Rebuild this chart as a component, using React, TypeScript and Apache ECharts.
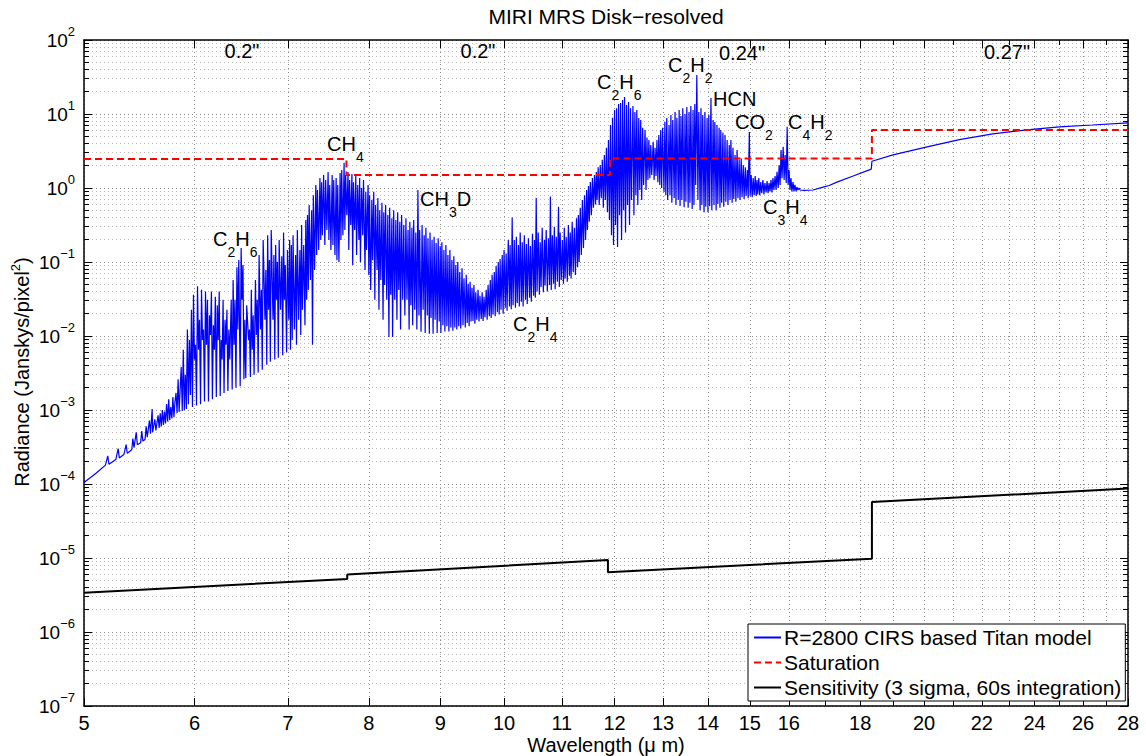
import React, { useEffect, useRef } from "react";
import * as echarts from "echarts";

const FONT = '"Liberation Sans", Arial, Helvetica, sans-serif';

// ---- axis ticks ----
const xMajorTicks = [5, 6, 7, 8, 9, 10, 11, 12, 13, 14, 15, 16, 18, 20, 22, 24, 26, 28];
const xMinorTicks = [17, 19, 21, 23, 25, 27];
const yMajorTicks = [1e-7, 1e-6, 1e-5, 1e-4, 1e-3, 1e-2, 1e-1, 1, 10, 100];
const yMinorTicks: number[] = [];
for (let e = -7; e < 2; e++) {
  for (let m = 2; m <= 9; m++) yMinorTicks.push(Number((m * Math.pow(10, e)).toPrecision(2)));
}

// ---- series names ----
const seriesNames = [
  "R=2800 CIRS based Titan model",
  "Saturation",
  "Sensitivity (3 sigma, 60s integration)",
];

// ---- Titan model spectrum [wavelength um, radiance Jy/pixel^2] ----
const spectrumShort = [
  [5.0, 1.05e-4], [5.1, 1.4e-4], [5.18, 1.8e-4], [5.2, 2.4e-4], [5.21, 1.85e-4], [5.27, 2.15e-4], [5.29, 3.0e-4], [5.3, 2.25e-4],
  [5.34, 2.5e-4], [5.36, 3.4e-4], [5.37, 2.6e-4], [5.41, 2.9e-4], [5.42, 4.1e-4], [5.43, 3.1e-4], [5.45, 5.0e-4], [5.46, 3.4e-4],
  [5.49, 3.6e-4], [5.5, 5.2e-4], [5.51, 3.8e-4], [5.53, 4.0e-4], [5.54, 6.0e-4], [5.55, 4.3e-4], [5.57, 7.2e-4], [5.58, 4.8e-4],
  [5.595, 1.03e-3], [5.6, 5.0e-4], [5.62, 7.5e-4], [5.63, 5.3e-4], [5.65, 8.5e-4], [5.66, 5.7e-4], [5.67, 9.0e-4], [5.68, 6.0e-4],
  [5.69, 1.0e-3], [5.7, 6.3e-4], [5.71, 9.5e-4], [5.72, 6.6e-4], [5.73, 1.2e-3], [5.74, 7.0e-4], [5.75, 1.4e-3], [5.76, 7.3e-4],
  [5.77, 1.1e-3], [5.78, 7.7e-4], [5.79, 1.5e-3], [5.8, 8.0e-4], [5.81, 1.3e-3],
  [5.82, 1.7e-3], [5.83, 9.1e-4], [5.84, 2.6e-3], [5.85, 9.4e-4], [5.87, 3.8e-3], [5.88, 9.7e-4], [5.89, 6.5e-3], [5.9, 1.0e-3],
  [5.91, 3.0e-3], [5.92, 1.03e-3], [5.93, 0.0122], [5.94, 1.2e-3], [5.95, 8.8e-3], [5.96, 1.6e-3], [5.97, 0.0226], [5.98, 1.1e-3],
  [5.99, 0.036], [6.0, 4.8e-3], [6.01, 7.6e-3], [6.02, 1.15e-3], [6.03, 0.047], [6.04, 6.5e-3], [6.05, 0.0166], [6.06, 1.2e-3],
  [6.07, 0.042], [6.08, 8.8e-3], [6.09, 0.0122], [6.1, 1.3e-3], [6.11, 0.04], [6.12, 7.6e-3], [6.13, 0.031], [6.14, 1.3e-3],
  [6.15, 0.019], [6.16, 0.0103], [6.17, 0.04], [6.18, 1.4e-3], [6.19, 0.014], [6.2, 6.5e-3], [6.21, 0.034], [6.22, 1.5e-3],
  [6.23, 0.026], [6.24, 8.8e-3], [6.25, 0.04], [6.26, 1.55e-3], [6.27, 8.8e-3], [6.28, 4.8e-3], [6.29, 0.031], [6.3, 1.7e-3],
  [6.31, 0.0166], [6.32, 7.6e-3], [6.33, 0.0226], [6.34, 1.8e-3], [6.35, 0.0122], [6.36, 4.8e-3], [6.375, 0.031], [6.385, 1.9e-3],
  [6.395, 0.057], [6.405, 7.6e-3], [6.415, 0.031], [6.425, 2.0e-3], [6.435, 0.085], [6.445, 0.0122], [6.455, 0.106], [6.47, 2.1e-3],
  [6.48, 0.155], [6.49, 0.031], [6.5, 0.091], [6.51, 2.6e-3],
  [6.52, 0.0166], [6.53, 2.7e-3], [6.54, 0.026], [6.56, 8.8e-3], [6.57, 0.0122], [6.58, 2.8e-3], [6.59, 0.042], [6.6, 6.5e-3],
  [6.61, 0.019], [6.62, 3.0e-3], [6.635, 0.057], [6.645, 0.0103], [6.655, 0.031], [6.665, 3.2e-3], [6.675, 0.124], [6.69, 0.0122],
  [6.7, 0.042], [6.71, 3.5e-3], [6.72, 0.198], [6.74, 0.0166], [6.75, 0.078], [6.76, 4.1e-3], [6.77, 0.23], [6.78, 0.0226],
  [6.79, 0.106], [6.8, 4.5e-3], [6.81, 0.27], [6.83, 0.0166], [6.84, 0.124], [6.85, 4.8e-3], [6.86, 0.17], [6.87, 0.031],
  [6.88, 0.1], [6.89, 5.1e-3], [6.9, 0.198], [6.915, 0.0226], [6.93, 0.12], [6.94, 5.5e-3], [6.95, 0.25], [6.96, 0.031],
  [6.97, 0.091], [6.985, 6.0e-3], [6.995, 0.145], [7.01, 0.0166], [7.02, 0.198], [7.03, 6.5e-3],
  [7.04, 0.17], [7.05, 8.8e-3], [7.06, 0.23], [7.075, 0.0122], [7.09, 0.124], [7.1, 7.6e-3], [7.11, 0.27], [7.125, 0.0166],
  [7.14, 0.145], [7.15, 0.0103], [7.16, 0.316], [7.17, 0.0226], [7.185, 0.17], [7.2, 0.014], [7.21, 0.37], [7.22, 0.031],
  [7.23, 0.43], [7.24, 0.042], [7.25, 0.59], [7.265, 0.057], [7.28, 0.5], [7.29, 7.6e-3], [7.3, 0.8], [7.315, 0.078],
  [7.33, 1.1], [7.34, 0.124], [7.35, 0.94], [7.365, 0.145], [7.38, 1.36], [7.39, 0.198], [7.4, 1.2], [7.41, 0.23],
  [7.425, 1.5], [7.44, 0.17], [7.45, 1.28], [7.465, 0.27], [7.48, 1.65], [7.49, 0.198], [7.5, 1.1], [7.515, 0.145],
  [7.53, 1.5], [7.54, 0.17], [7.55, 1.28], [7.565, 0.124], [7.58, 1.36], [7.59, 0.106], [7.6, 1.1], [7.615, 0.1],
  [7.63, 1.6], [7.64, 0.198], [7.65, 1.75], [7.665, 0.23], [7.68, 2.2], [7.69, 0.27], [7.7, 1.5], [7.715, 0.43],
];

const spectrumMid = [
  [7.73, 1.65], [7.74, 0.145], [7.75, 1.28], [7.765, 0.316], [7.78, 1.55], [7.79, 0.091], [7.8, 1.2], [7.815, 0.27],
  [7.83, 1.45], [7.84, 0.124], [7.855, 1.1], [7.87, 0.198], [7.88, 1.36], [7.89, 0.1], [7.905, 1.0], [7.92, 0.23],
  [7.93, 1.28], [7.95, 0.078], [7.96, 0.89], [7.97, 0.145], [7.99, 1.1], [8.0, 0.067], [8.01, 0.8], [8.025, 0.042],
  [8.04, 0.69], [8.05, 0.106], [8.065, 0.89], [8.08, 0.031], [8.09, 0.59], [8.11, 0.078], [8.12, 0.73], [8.135, 0.0226],
  [8.145, 0.5], [8.16, 0.057], [8.175, 0.63], [8.19, 0.0166], [8.2, 0.47], [8.21, 0.049], [8.225, 0.59], [8.24, 0.031],
  [8.255, 0.43], [8.27, 9.7e-3], [8.28, 0.54], [8.295, 0.036], [8.31, 0.39], [8.32, 9.7e-3], [8.335, 0.5], [8.35, 0.031],
  [8.365, 0.37], [8.38, 0.0166], [8.39, 0.47], [8.405, 0.042], [8.42, 0.35], [8.43, 0.0122], [8.445, 0.43], [8.46, 0.031],
  [8.475, 0.316], [8.49, 0.019], [8.505, 0.39], [8.52, 0.031], [8.535, 0.27], [8.55, 0.0122], [8.56, 0.35], [8.575, 0.026],
  [8.59, 0.29], [8.6, 0.014], [8.615, 0.37], [8.63, 0.0226], [8.645, 0.25], [8.66, 0.0122], [8.675, 0.94], [8.69, 0.019],
  [8.7, 0.27], [8.72, 0.0114], [8.735, 0.316], [8.75, 0.0226], [8.765, 0.23], [8.78, 0.011], [8.79, 0.29], [8.81, 0.019],
  [8.82, 0.21], [8.84, 0.0107], [8.85, 0.25], [8.865, 0.0175], [8.88, 0.198], [8.895, 0.0107], [8.91, 0.22], [8.925, 0.0166],
  [8.94, 0.18], [8.955, 0.011], [8.97, 0.21], [8.985, 0.0157], [9.0, 0.165], [9.01, 0.011], [9.025, 0.185], [9.04, 0.014],
  [9.055, 0.145], [9.07, 0.0115], [9.085, 0.17], [9.1, 0.0136], [9.115, 0.124], [9.13, 0.0115], [9.145, 0.145], [9.16, 0.013],
  [9.175, 0.106], [9.19, 0.0118], [9.205, 0.12], [9.22, 0.013], [9.235, 0.091], [9.25, 0.0122], [9.265, 0.1], [9.28, 0.0136],
  [9.295, 0.073], [9.31, 0.0126], [9.33, 0.082], [9.345, 0.014], [9.36, 0.06], [9.38, 0.013], [9.395, 0.067], [9.41, 0.015],
  [9.425, 0.051], [9.44, 0.0136], [9.455, 0.054], [9.47, 0.0157],
  [9.485, 0.045], [9.5, 0.016], [9.515, 0.049], [9.53, 0.0147], [9.545, 0.039], [9.56, 0.0166], [9.58, 0.042], [9.595, 0.0157],
  [9.61, 0.035], [9.63, 0.017], [9.645, 0.039], [9.66, 0.016], [9.675, 0.034], [9.69, 0.018], [9.71, 0.042], [9.725, 0.0166],
  [9.74, 0.049], [9.76, 0.0185], [9.775, 0.057], [9.79, 0.0175], [9.805, 0.067], [9.82, 0.0195], [9.84, 0.073], [9.855, 0.0185],
  [9.87, 0.088], [9.89, 0.021], [9.905, 0.1], [9.92, 0.0195], [9.935, 0.11], [9.95, 0.0226], [9.97, 0.124], [9.985, 0.02],
  [10.0, 0.145], [10.02, 0.024], [10.035, 0.13], [10.05, 0.022], [10.07, 0.198], [10.09, 0.025], [10.1, 0.17], [10.12, 0.023],
  [10.135, 0.4], [10.15, 0.026], [10.17, 0.198], [10.19, 0.024], [10.205, 0.22], [10.22, 0.028], [10.24, 0.17], [10.255, 0.025],
  [10.27, 0.25], [10.29, 0.029], [10.305, 0.185], [10.32, 0.025], [10.34, 0.23], [10.36, 0.031], [10.375, 0.175], [10.39, 0.027],
  [10.41, 0.21], [10.43, 0.033], [10.445, 0.165], [10.46, 0.029], [10.48, 0.24], [10.5, 0.035], [10.515, 0.198], [10.53, 0.033],
  [10.545, 0.73], [10.56, 0.04],
  [10.58, 0.25], [10.6, 0.036], [10.615, 0.185], [10.63, 0.046], [10.65, 0.29], [10.67, 0.039], [10.69, 0.198], [10.7, 0.048],
  [10.72, 0.27], [10.74, 0.04], [10.76, 0.21], [10.78, 0.049], [10.795, 0.77], [10.81, 0.042], [10.83, 0.23], [10.85, 0.051],
  [10.865, 0.3], [10.88, 0.043], [10.9, 0.22], [10.92, 0.054], [10.94, 0.56], [10.955, 0.046], [10.97, 0.25], [10.99, 0.057],
  [11.01, 0.198], [11.03, 0.051], [11.045, 0.29], [11.06, 0.06], [11.08, 0.22], [11.1, 0.054], [11.12, 0.316], [11.14, 0.065],
  [11.155, 0.25], [11.17, 0.06], [11.19, 0.35], [11.21, 0.073], [11.23, 0.29], [11.25, 0.067], [11.27, 0.39], [11.29, 0.085],
  [11.305, 0.43], [11.32, 0.1], [11.34, 0.54], [11.36, 0.124], [11.38, 0.69], [11.4, 0.155], [11.42, 0.8], [11.44, 0.198],
  [11.46, 0.94], [11.475, 0.27], [11.495, 1.06], [11.51, 0.35], [11.53, 1.2], [11.55, 0.43], [11.57, 1.36], [11.59, 0.54],
  [11.61, 1.5], [11.63, 0.6], [11.645, 1.65], [11.66, 0.69], [11.68, 1.9], [11.7, 0.59], [11.72, 2.05], [11.74, 0.73],
  [11.76, 2.4], [11.78, 0.54], [11.8, 2.8], [11.82, 0.69], [11.84, 3.5], [11.86, 0.47],
];

const spectrumLong = [
  [11.88, 4.46], [11.9, 0.37], [11.92, 7.1], [11.94, 0.23], [11.96, 8.8], [11.98, 0.17], [12.0, 11.3], [12.02, 0.316],
  [12.04, 12.0], [12.06, 0.16], [12.08, 13.7], [12.1, 0.43], [12.12, 14.1], [12.14, 0.198], [12.16, 15.5], [12.18, 0.5],
  [12.2, 17.0], [12.22, 0.25], [12.24, 13.2], [12.26, 0.59], [12.28, 14.5], [12.3, 0.316], [12.32, 12.0], [12.34, 0.69],
  [12.37, 12.8], [12.39, 0.43], [12.41, 10.6], [12.43, 0.8], [12.45, 11.3], [12.47, 0.59], [12.49, 8.8], [12.51, 0.94],
  [12.53, 8.3], [12.55, 0.69], [12.57, 6.5], [12.59, 1.1], [12.62, 6.1], [12.64, 0.94], [12.66, 4.8], [12.68, 1.28],
  [12.7, 4.46], [12.72, 1.36], [12.74, 3.8], [12.76, 1.5], [12.79, 4.2], [12.81, 1.28], [12.83, 3.5], [12.85, 1.45],
  [12.87, 4.46], [12.89, 1.2], [12.91, 5.2], [12.93, 1.1], [12.95, 6.1], [12.97, 1.0], [12.99, 6.5], [13.02, 0.89],
  [13.04, 7.8], [13.06, 0.8], [13.08, 8.8], [13.1, 0.69], [13.13, 7.1], [13.15, 0.8], [13.17, 9.7], [13.19, 0.63],
  [13.21, 8.3], [13.24, 0.73], [13.26, 10.6], [13.28, 0.59], [13.3, 8.8], [13.33, 0.69], [13.35, 11.3], [13.37, 0.57],
  [13.39, 9.4], [13.41, 0.69], [13.43, 12.0], [13.46, 0.55], [13.48, 10.0], [13.5, 0.65], [13.52, 12.4], [13.55, 0.54],
  [13.57, 10.6], [13.59, 0.63], [13.61, 12.8], [13.64, 0.52], [13.66, 11.3], [13.68, 0.59], [13.7, 13.7], [13.72, 1.1],
  [13.745, 33.7], [13.77, 0.69], [13.79, 10.6], [13.82, 0.5], [13.84, 12.0], [13.86, 0.59],
  [13.88, 9.7], [13.91, 0.47], [13.93, 10.6], [13.95, 0.56], [13.98, 8.8], [14.0, 0.47], [14.02, 9.7], [14.04, 0.57],
  [14.07, 16.5], [14.09, 0.5], [14.12, 8.3], [14.14, 0.59], [14.16, 7.8], [14.19, 0.5], [14.21, 7.1], [14.23, 0.61],
  [14.26, 6.5], [14.28, 0.54], [14.3, 6.1], [14.32, 0.63], [14.35, 5.6], [14.37, 0.56], [14.4, 5.2], [14.42, 0.65],
  [14.45, 4.46], [14.47, 0.59], [14.5, 3.8], [14.52, 0.69], [14.54, 4.46], [14.57, 0.63], [14.59, 3.5], [14.61, 0.71],
  [14.64, 2.8], [14.66, 0.65], [14.69, 3.27], [14.71, 0.73], [14.74, 2.4], [14.76, 0.69], [14.79, 2.5], [14.81, 0.75],
  [14.84, 2.05], [14.86, 0.71], [14.89, 1.9], [14.91, 0.78], [14.94, 1.75], [14.96, 0.73], [14.99, 5.7], [15.01, 0.78],
  [15.035, 1.5], [15.06, 0.75], [15.085, 1.36], [15.11, 0.8], [15.135, 1.45], [15.16, 0.78], [15.18, 1.28], [15.2, 0.82],
  [15.225, 1.36], [15.25, 0.8], [15.275, 1.2], [15.3, 0.85], [15.33, 1.28], [15.355, 0.82], [15.38, 1.17], [15.41, 0.87],
  [15.435, 1.24], [15.46, 0.85], [15.485, 1.17], [15.51, 0.9], [15.535, 1.28], [15.56, 0.87], [15.585, 1.36], [15.61, 0.94],
  [15.64, 1.45], [15.665, 0.94], [15.69, 1.65], [15.72, 1.0], [15.745, 2.05], [15.77, 1.1], [15.795, 3.27], [15.82, 1.36],
  [15.85, 3.6], [15.875, 1.28], [15.9, 2.8], [15.93, 1.17], [15.955, 6.7], [15.98, 1.1], [16.005, 1.75], [16.03, 0.94],
  [16.055, 1.36], [16.08, 0.9], [16.11, 1.2], [16.135, 0.9], [16.16, 1.1], [16.19, 0.9], [16.215, 1.03], [16.24, 0.94],
  [16.27, 1.0], [16.3, 0.94],
];

const spectrumContinuum = [
  [16.4, 0.93], [16.65, 0.94], [16.93, 1.03], [17.1, 1.08], [17.32, 1.2], [17.79, 1.45], [18.33, 1.8], [18.35, 2.3],
  [19.0, 2.8], [20.1, 3.6], [21.2, 4.5], [22.4, 5.4], [23.7, 6.1], [25.0, 6.7], [26.4, 7.1], [28.0, 7.6],
];

// ---- saturation limit ----
const saturation = [
  [5.0, 2.47], [7.71, 2.47], [7.71, 1.5], [11.91, 1.5], [11.91, 2.5], [18.35, 2.5], [18.35, 6.1], [28.0, 6.1],
];

// ---- sensitivity (3 sigma, 60 s) ----
const sensitivity = [
  [5.0, 3.4e-6], [7.72, 5.2e-6], [7.72, 6.0e-6], [11.87, 9.4e-6], [11.87, 6.4e-6], [18.35, 9.8e-6], [18.35, 5.7e-5], [28.0, 8.7e-5],
];

// ---- annotations ----
const apertureLabels = ['0.2"', '0.2"', '0.24"', '0.27"'];
const moleculeLabels = [
  "{m|C}{u|2}{m|H}{u|6}",
  "{m|CH}{u|4}",
  "{m|CH}{u|3}{m|D}",
  "{m|C}{u|2}{m|H}{u|4}",
  "{m|C}{u|2}{m|H}{u|6}",
  "{m|C}{u|2}{m|H}{u|2}",
  "{m|HCN}",
  "{m|CO}{u|2}",
  "{m|C}{u|4}{m|H}{u|2}",
  "{m|C}{u|3}{m|H}{u|4}",
];

const aperturePos = [[242, 51], [478, 51], [742, 53], [1007, 52]];
const moleculePos = [
  [213, 239], [327, 144], [420, 199], [513, 324], [597, 82], [668, 65], [713, 99], [735, 122], [788, 122], [763, 207],
];

export default function App() {
  const ref = useRef<HTMLDivElement>(null);

  useEffect(() => {
    if (!ref.current) return;
    const chart = echarts.init(ref.current, undefined, { renderer: "svg" });

    const spectrum = [...spectrumShort, ...spectrumMid, ...spectrumLong, ...spectrumContinuum];

    const majorGrid = { show: true, lineStyle: { color: "#8a8a8a", width: 1, type: [1, 3] } };
    const minorGrid = { show: true, lineStyle: { color: "#b8b8b8", width: 1, type: [1, 3] } };
    const axisLine = { show: true, onZero: false, lineStyle: { color: "#000", width: 1.5 } };

    const xBase = { type: "log", logBase: 10, min: 5, max: 28, minorTick: { show: false }, minorSplitLine: { show: false } };
    const yBase = { type: "log", logBase: 10, min: 1e-7, max: 100, minorTick: { show: false }, minorSplitLine: { show: false } };

    const expLabel = (v: number) => {
      const e = Math.round(Math.log10(v));
      return `{b|10}{s|${e < 0 ? "\u2212" + -e : e}}`;
    };

    const graphic: any[] = [
      {
        type: "text", x: 606, y: 16, silent: true,
        style: { text: "MIRI MRS Disk\u2212resolved", fontSize: 21, fontFamily: FONT, fill: "#000", align: "center", verticalAlign: "middle" },
      },
      {
        type: "text", x: 606, y: 745, silent: true,
        style: { text: "Wavelength (\u03bc m)", fontSize: 20, fontFamily: FONT, fill: "#000", align: "center", verticalAlign: "middle" },
      },
      {
        type: "text", x: 22, y: 372, rotation: Math.PI / 2, silent: true,
        style: {
          text: "{b|Radiance (Janskys/pixel}{s|2}{b|)}",
          align: "center", verticalAlign: "middle",
          rich: {
            b: { fontSize: 20, fontFamily: FONT, fill: "#000" },
            s: { fontSize: 13, fontFamily: FONT, fill: "#000", padding: [0, 0, 14, 0] },
          },
        },
      },
    ];
    apertureLabels.forEach((t, i) => {
      graphic.push({
        type: "text", x: aperturePos[i][0], y: aperturePos[i][1], silent: true, z: 10,
        style: { text: t, fontSize: 20, fontFamily: FONT, fill: "#000", align: "center", verticalAlign: "middle" },
      });
    });
    moleculeLabels.forEach((t, i) => {
      graphic.push({
        type: "text", x: moleculePos[i][0], y: moleculePos[i][1], silent: true, z: 10,
        style: {
          text: t, align: "left", verticalAlign: "middle",
          rich: {
            m: { fontSize: 20, fontFamily: FONT, fill: "#000" },
            u: { fontSize: 14, fontFamily: FONT, fill: "#000", padding: [26, 0, 0, 0] },
          },
        },
      });
    });

    chart.setOption({
      animation: false,
      backgroundColor: "#fff",
      textStyle: { fontFamily: FONT },
      grid: { left: 84, right: 18, top: 40, bottom: 50, containLabel: false },
      legend: {
        orient: "vertical",
        left: 748,
        top: 624,
        data: seriesNames,
        itemWidth: 27,
        itemHeight: 12,
        itemGap: 4,
        padding: [3, 4, 3, 5],
        backgroundColor: "#fff",
        borderColor: "#000",
        borderWidth: 1,
        borderRadius: 0,
        selectedMode: false,
        itemStyle: { opacity: 0 },
        textStyle: { fontSize: 21, fontFamily: FONT, color: "#000", padding: [0, 0, 0, -2] },
        z: 20,
      },
      xAxis: [
        {
          ...xBase, position: "bottom", axisLine,
          axisTick: { show: true, inside: true, length: 8, customValues: xMajorTicks, lineStyle: { color: "#000", width: 1 } },
          axisLabel: {
            show: true, customValues: xMajorTicks, margin: 7, fontSize: 20, fontFamily: FONT, color: "#000",
            formatter: (v: number) => String(Math.round(v)),
          },
          splitLine: majorGrid,
        },
        {
          ...xBase, position: "bottom", axisLine: { show: false },
          axisTick: { show: true, inside: true, length: 5, customValues: xMinorTicks, lineStyle: { color: "#000", width: 1 } },
          axisLabel: { show: false },
          splitLine: majorGrid,
        },
        {
          ...xBase, position: "top", axisLine,
          axisTick: { show: true, inside: true, length: 8, customValues: xMajorTicks, lineStyle: { color: "#000", width: 1 } },
          axisLabel: { show: false }, splitLine: { show: false },
        },
        {
          ...xBase, position: "top", axisLine: { show: false },
          axisTick: { show: true, inside: true, length: 5, customValues: xMinorTicks, lineStyle: { color: "#000", width: 1 } },
          axisLabel: { show: false }, splitLine: { show: false },
        },
      ],
      yAxis: [
        {
          ...yBase, position: "left", axisLine,
          axisTick: { show: true, inside: true, length: 8, customValues: yMajorTicks, lineStyle: { color: "#000", width: 1 } },
          axisLabel: {
            show: true, customValues: yMajorTicks, margin: 9, color: "#000", formatter: expLabel,
            rich: {
              b: { fontSize: 19, fontFamily: FONT, color: "#000" },
              s: { fontSize: 13, fontFamily: FONT, color: "#000", padding: [0, 0, 17, 0] },
            },
          },
          splitLine: majorGrid,
        },
        {
          ...yBase, position: "left", axisLine: { show: false },
          axisTick: { show: true, inside: true, length: 5, customValues: yMinorTicks, lineStyle: { color: "#000", width: 1 } },
          axisLabel: { show: false },
          splitLine: minorGrid,
        },
        {
          ...yBase, position: "right", axisLine,
          axisTick: { show: true, inside: true, length: 8, customValues: yMajorTicks, lineStyle: { color: "#000", width: 1 } },
          axisLabel: { show: false }, splitLine: { show: false },
        },
        {
          ...yBase, position: "right", axisLine: { show: false },
          axisTick: { show: true, inside: true, length: 5, customValues: yMinorTicks, lineStyle: { color: "#000", width: 1 } },
          axisLabel: { show: false }, splitLine: { show: false },
        },
      ],
      series: [
        {
          name: seriesNames[0], type: "line", data: spectrum, symbol: "none", showSymbol: false,
          color: "#0000ff", lineStyle: { color: "#0000ff", width: 1.2 }, z: 3,
        },
        {
          name: seriesNames[1], type: "line", data: saturation, symbol: "none", showSymbol: false,
          color: "#ff0000", lineStyle: { color: "#ff0000", width: 2, type: [7, 4] }, z: 4,
        },
        {
          name: seriesNames[2], type: "line", data: sensitivity, symbol: "none", showSymbol: false,
          color: "#000000", lineStyle: { color: "#000000", width: 2 }, z: 4,
        },
      ],
      graphic,
    });

    return () => {
      chart.dispose();
    };
  }, []);

  return (
    <div
      ref={ref}
      style={{ position: "fixed", left: 0, top: 0, width: 1146, height: 756, background: "#fff" }}
    />
  );
}
